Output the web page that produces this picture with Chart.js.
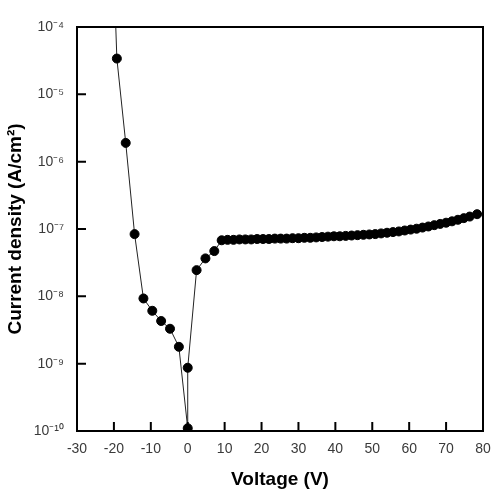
<!DOCTYPE html>
<html>
<head>
<meta charset="utf-8">
<script src="https://cdn.jsdelivr.net/npm/chart.js@4/dist/chart.umd.min.js"></script>
<style>
  html, body { margin: 0; padding: 0; background: #ffffff; }
  #c { display: block; }
</style>
</head>
<body>
<canvas id="c" width="493" height="494"></canvas>
<script>
// ---- data ----
const voltage = [-20.5, -19.2, -16.8, -14.4, -12.0, -9.6, -7.2, -4.8, -2.4, 0.0, 0.0, 2.4, 4.8, 7.2,
  9.2, 10.8, 12.4, 14.0, 15.6, 17.2, 18.8, 20.4, 22.0, 23.6, 25.2, 26.8, 28.4, 30.0, 31.6, 33.2,
  34.8, 36.4, 38.0, 39.6, 41.2, 42.8, 44.4, 46.0, 47.6, 49.2, 50.8, 52.4, 54.0, 55.6, 57.2, 58.8,
  60.4, 62.0, 63.6, 65.2, 66.8, 68.4, 70.0, 71.6, 73.2, 74.8, 76.4, 78.4];
const currentDensity = [4e-3, 3.4e-5, 1.9e-6, 8.4e-8, 9.3e-9, 6.1e-9, 4.3e-9, 3.3e-9, 1.78e-9, 1.1e-10, 8.7e-10, 2.45e-8, 3.66e-8, 4.7e-8,
  6.8e-8, 6.9e-8, 6.9e-8, 7.0e-8, 7.0e-8, 7.0e-8, 7.1e-8, 7.1e-8, 7.1e-8, 7.2e-8, 7.2e-8, 7.2e-8, 7.3e-8, 7.3e-8, 7.4e-8, 7.4e-8,
  7.5e-8, 7.6e-8, 7.7e-8, 7.8e-8, 7.8e-8, 7.9e-8, 8.0e-8, 8.1e-8, 8.2e-8, 8.3e-8, 8.4e-8, 8.6e-8, 8.8e-8, 9.0e-8, 9.2e-8, 9.5e-8,
  9.8e-8, 1.01e-7, 1.05e-7, 1.09e-7, 1.14e-7, 1.19e-7, 1.24e-7, 1.30e-7, 1.37e-7, 1.45e-7, 1.53e-7, 1.66e-7];
const xTicks = [-30, -20, -10, 0, 10, 20, 30, 40, 50, 60, 70, 80];
const yTicks = [1e-10, 1e-9, 1e-8, 1e-7, 1e-6, 1e-5, 1e-4];
const yTickLabels = ['10⁻¹⁰', '10⁻⁹', '10⁻⁸', '10⁻⁷', '10⁻⁶', '10⁻⁵', '10⁻⁴'];
const xTitle = 'Voltage (V)';
const yTitle = 'Current density (A/cm²)';

const points = voltage.map((v, i) => ({ x: v, y: currentDensity[i] }));

const frame = {
  id: 'frame',
  afterDraw(chart) {
    const { ctx, chartArea: a, scales } = chart;
    ctx.save();
    ctx.strokeStyle = '#000';
    ctx.lineWidth = 2;
    ctx.beginPath();
    // inward tick marks
    const tl = 9;
    scales.x.ticks.forEach(t => {
      const px = scales.x.getPixelForValue(t.value);
      ctx.moveTo(px, a.bottom);
      ctx.lineTo(px, a.bottom - tl);
    });
    scales.y.ticks.forEach(t => {
      const py = scales.y.getPixelForValue(t.value);
      ctx.moveTo(a.left, py);
      ctx.lineTo(a.left + tl, py);
    });
    ctx.stroke();
    ctx.strokeRect(a.left, a.top, a.right - a.left, a.bottom - a.top);
    ctx.restore();
  }
};

new Chart(document.getElementById('c'), {
  type: 'scatter',
  data: {
    datasets: [{
      data: points,
      showLine: true,
      borderColor: '#222',
      borderWidth: 1,
      tension: 0,
      pointRadius: 4.5,
      pointBorderWidth: 1,
      pointBackgroundColor: '#000',
      pointBorderColor: '#000'
    }]
  },
  options: {
    responsive: false,
    animation: false,
    devicePixelRatio: 1,
    layout: { padding: { top: 27, right: 10, left: 0, bottom: 0 } },
    plugins: { legend: { display: false }, tooltip: { enabled: false } },
    scales: {
      x: {
        type: 'linear',
        min: -30, max: 80,
        afterBuildTicks(s) { s.ticks = xTicks.map(v => ({ value: v })); },
        afterFit(s) { s.height = 63; s.paddingLeft = 0; s.paddingRight = 0; },
        grid: { display: false, drawTicks: false },
        border: { display: false },
        ticks: {
          padding: 10,
          color: '#3a3a3a',
          font: { family: 'Liberation Sans, Arial, sans-serif', size: 14 },
          maxRotation: 0,
          callback: v => String(v)
        },
        title: {
          display: true,
          text: xTitle,
          color: '#000',
          padding: { top: 0, bottom: 3 },
          font: { family: 'Liberation Sans, Arial, sans-serif', size: 19, weight: 'bold' }
        }
      },
      y: {
        type: 'logarithmic',
        min: 1e-10, max: 1e-4,
        afterBuildTicks(s) { s.ticks = yTicks.map(v => ({ value: v })); },
        afterFit(s) { s.width = 77; s.paddingTop = 0; s.paddingBottom = 0; },
        grid: { display: false, drawTicks: false },
        border: { display: false },
        ticks: {
          padding: 13,
          color: '#3a3a3a',
          font: { family: 'Liberation Sans, Arial, sans-serif', size: 14 },
          callback: (v) => {
            const i = yTicks.findIndex(t => Math.abs(Math.log10(t) - Math.log10(v)) < 1e-6);
            return i >= 0 ? yTickLabels[i] : '';
          }
        },
        title: {
          display: true,
          text: yTitle,
          color: '#000',
          padding: { top: 4, bottom: 0 },
          font: { family: 'Liberation Sans, Arial, sans-serif', size: 19, weight: 'bold' }
        }
      }
    }
  },
  plugins: [frame]
});
</script>
</body>
</html>
